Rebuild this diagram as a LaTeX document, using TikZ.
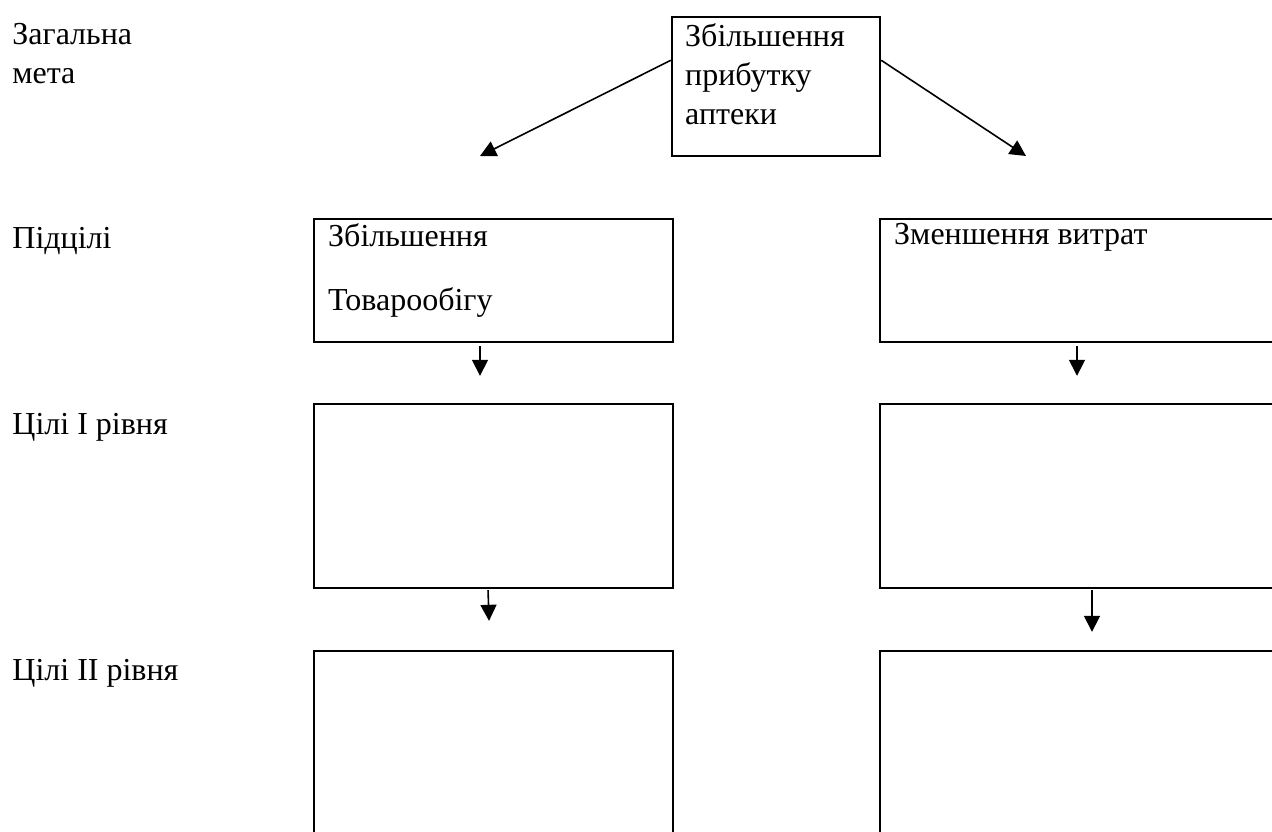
\documentclass[tikz,border=0pt]{standalone}
\usepackage{fontspec}
\setmainfont{Liberation Serif}
\usetikzlibrary{positioning,arrows.meta}

\begin{document}
\begin{tikzpicture}[
                x=0.5pt, y=-0.5pt,
                font=\fontsize{16}{19.5}\selectfont,
                box/.style={draw=black, line width=1.2pt, rectangle, inner sep=0pt},
                boxtext/.style={anchor=north west, inner sep=0pt, xshift=7.5pt, yshift=-2.5pt, align=left},
                levelname/.style={anchor=base west, inner sep=0pt},
                arr/.style={-{Triangle[length=8pt, width=8pt]}, line width=0.8pt}
            ]
            \useasboundingbox (0,0) rectangle (1272,831);
            \clip (0,0) rectangle (1272,831);

            % names of the levels
            \node[anchor=north west, inner sep=0pt, align=left] (Zagalna) at (12,23) {Загальна\\мета};
            \node[levelname] (Pidcili) at (12,248) {Підцілі};
            \node[levelname] (Cili1) at (12,434) {Цілі І рівня};
            \node[levelname] (Cili2) at (12,680) {Цілі ІІ рівня};

            % boxes
            \node[box, minimum width=104pt, minimum height=69.5pt,
                  label={[boxtext, xshift=-0.5pt, yshift=-1pt]north west:Збільшення\\прибутку\\аптеки}] (Prybutok) at (776,86.5) {};
            \node[box, minimum width=179.5pt, minimum height=61.5pt,
                  label={[boxtext]north west:Збільшення\\[12.5pt]Товарообігу}] (Tovaroobig) at (493.5,280.5) {};
            \node[box, minimum width=205pt, minimum height=61.5pt,
                  label={[boxtext]north west:Зменшення витрат}] (Vytraty) at (1085,280.5) {};
            \node[box, minimum width=179.5pt, minimum height=92pt] (Tovaroobig_1) at (493.5,496) {};
            \node[box, minimum width=205pt, minimum height=92pt] (Vytraty_1) at (1085,496) {};
            \node[box, minimum width=179.5pt, minimum height=124.5pt] (Tovaroobig_2) at (493.5,775.5) {};
            \node[box, minimum width=205pt, minimum height=124.5pt] (Vytraty_2) at (1085,775.5) {};

            \coordinate (Prybutok_l) at (480,156);
            \coordinate (Prybutok_r) at (1026,156);

            \draw[arr] (Prybutok.166) -- (Prybutok_l);
            \draw[arr] (Prybutok.14) -- (Prybutok_r);

            \draw[arr, shorten <=1.5pt, shorten >=13.5pt] ([xshift=-6.75pt]Tovaroobig.south) -- ([xshift=-6.75pt]Tovaroobig_1.north);
            \draw[arr, shorten <=1.5pt, shorten >=13.5pt] ([xshift=-4pt]Vytraty.south) -- ([xshift=-4pt]Vytraty_1.north);
            \draw[arr, shorten <=0.5pt, shorten >=14.5pt] ([xshift=-2.75pt]Tovaroobig_1.south) -- ([xshift=-1.75pt]Tovaroobig_2.north);
            \draw[arr, shorten <=0.5pt, shorten >=9pt] ([xshift=3.5pt]Vytraty_1.south) -- ([xshift=3.5pt]Vytraty_2.north);
        \end{tikzpicture}
\end{document}
